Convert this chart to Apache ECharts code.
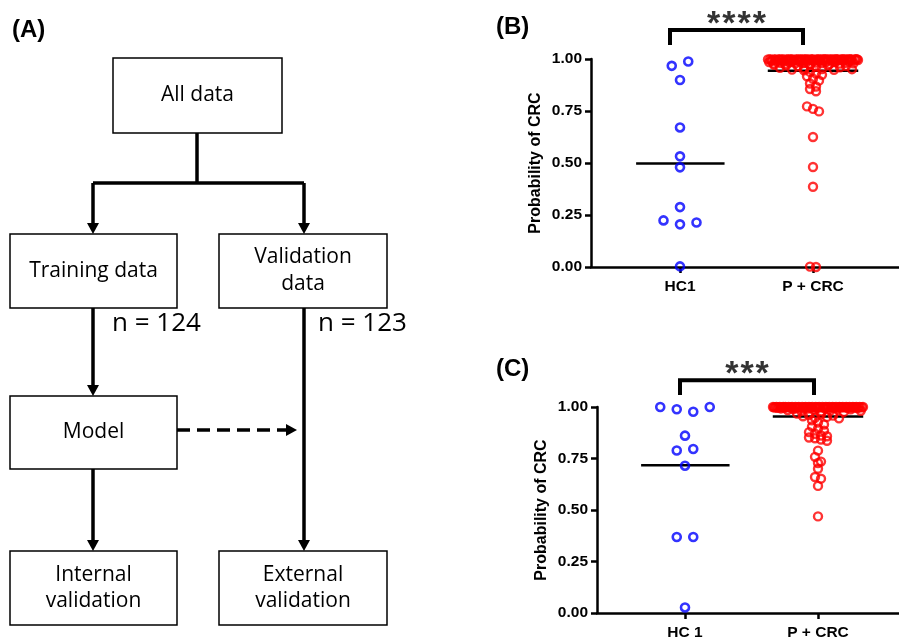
<!DOCTYPE html>
<html>
<head>
<meta charset="utf-8">
<script src="https://cdn.jsdelivr.net/npm/echarts@6/dist/echarts.min.js"></script>
<style>html,body{margin:0;padding:0;background:#fff}#c{width:899px;height:641px}</style>
</head>
<body>
<div id="c"></div>
<script>
// ---------------- DATA ----------------
const categoriesB = ['HC1', 'P + CRC'];
const categoriesC = ['HC 1', 'P + CRC'];
const yTicks = [0, 0.25, 0.5, 0.75, 1.0];

// Panel B (training) probabilities
const hcB = [0.967, 0.988, 0.899, 0.671, 0.532, 0.479, 0.288, 0.224, 0.205, 0.214, 0.003];
const crcB = [
  0.998, 0.985, 0.999, 0.991, 0.996, 0.978, 0.999, 0.994, 0.987, 0.997,
  0.999, 0.982, 0.995, 0.999, 0.989, 0.976, 0.998, 0.993, 0.999, 0.984,
  0.997, 0.999, 0.990, 0.996, 0.979, 0.999, 0.992, 0.998, 0.986, 0.999,
  0.995, 0.981, 0.999, 0.997, 0.988, 0.999, 0.994, 0.977, 0.998, 0.999,
  0.990, 0.996, 0.983, 0.999, 0.997, 0.992, 0.999, 0.980, 0.995, 0.999,
  0.998, 0.987, 0.999, 0.993, 0.976, 0.999, 0.996, 0.989, 0.999, 0.985,
  0.998, 0.999, 0.994, 0.978, 0.997, 0.999, 0.991, 0.999, 0.982, 0.996,
  0.999, 0.988, 0.998, 0.999, 0.993, 0.979, 0.997, 0.999, 0.999, 0.995,
  0.972, 0.958, 0.968, 0.949, 0.965, 0.955, 0.971, 0.946, 0.962, 0.952,
  0.969, 0.948, 0.960, 0.966, 0.951,
  0.938, 0.930, 0.924, 0.917, 0.905, 0.896, 0.882, 0.868, 0.856, 0.845,
  0.772, 0.760, 0.748, 0.625, 0.481, 0.386, 0.002, 0.000
];
const starsB = '****';

// Panel C (validation) probabilities
const hcC = [1.0, 0.989, 0.977, 1.0, 0.861, 0.789, 0.796, 0.715, 0.369, 0.369, 0.027];
const crcC = [
  1.0, 0.999, 0.998, 1.0, 0.996, 0.999, 1.0, 0.993, 0.999, 1.0,
  0.997, 1.0, 0.999, 0.985, 1.0, 0.998, 0.999, 1.0, 0.990, 0.999,
  1.0, 0.995, 0.999, 1.0, 0.998, 0.980, 1.0, 0.999, 0.997, 1.0,
  0.999, 0.992, 1.0, 0.999, 0.998, 1.0, 0.987, 0.999, 1.0, 0.996,
  0.999, 1.0, 0.998, 0.978, 1.0, 0.999, 0.994, 1.0, 0.999, 0.998,
  1.0, 0.983, 0.999, 1.0, 0.997, 0.999, 1.0, 0.991, 0.999, 1.0,
  0.998, 0.999, 1.0, 0.976, 0.999, 1.0, 0.996, 0.999, 1.0, 0.989,
  0.999, 1.0, 0.998, 0.999, 1.0, 0.995, 0.999, 1.0, 0.982, 0.999, 1.0,
  0.968, 0.955, 0.962, 0.948, 0.965, 0.952, 0.958, 0.945,
  0.935, 0.925, 0.915, 0.905, 0.895, 0.885, 0.878, 0.870, 0.862, 0.858,
  0.852, 0.848, 0.842, 0.836,
  0.788, 0.758, 0.735, 0.728, 0.700, 0.660, 0.652, 0.617, 0.469
];
const starsC = '***';

// Flowchart texts
const flowTexts = {
  all: 'All data', train: 'Training data', valid: 'Validation\ndata',
  nTrain: 'n = 124', nValid: 'n = 123', model: 'Model',
  internal: 'Internal\nvalidation', external: 'External\nvalidation'
};

// ---------------- LAYOUT / HELPERS ----------------
const BLUE = '#0000ff', RED = '#ff0000', INK = '#000';
const AXF = '"Liberation Sans", Arial, sans-serif';
const PX_PER_CAT = 133;

function mean(a) { return a.reduce((s, v) => s + v, 0) / a.length; }

// GraphPad-like row swarm: points within T of a row start share a row, spread horizontally
function swarm(values, center, T, Spx, Wpx) {
  const idx = values.map((v, i) => i).sort((a, b) => values[b] - values[a] || a - b);
  const rows = []; let cur = null;
  idx.forEach(i => {
    if (!cur || values[cur.start] - values[i] > T) { cur = { start: i, m: [] }; rows.push(cur); }
    cur.m.push(i);
  });
  const out = [];
  rows.forEach(r => {
    const m = r.m.slice().sort((a, b) => a - b);
    const k = m.length;
    const s = k > 1 ? Math.min(Spx, 2 * Wpx / (k - 1)) : 0;
    m.forEach((i, j) => out.push([center + (j - (k - 1) / 2) * s / PX_PER_CAT, values[i]]));
  });
  return out;
}

const panels = [
  { grid: { left: 591, top: 59, width: 308, height: 208 }, firstPx: 89, cats: categoriesB,
    hc: hcB, crc: crcB, stars: starsB, bracketTop: 1.139, bracketLeg: 1.067, bracketShift: [-10, -10],
    starY: 1.163, nameGap: 47 },
  { grid: { left: 597, top: 407, width: 302, height: 207 }, firstPx: 88, cats: categoriesC,
    hc: hcC, crc: crcC, stars: starsC, bracketTop: 1.130, bracketLeg: 1.058, bracketShift: [-5, -4],
    starY: 1.159, nameGap: 47 }
];

const grids = [], xAxes = [], yAxes = [], series = [];
panels.forEach((p, gi) => {
  grids.push(p.grid);
  const xmin = 1 - p.firstPx / PX_PER_CAT;
  const xmax = xmin + p.grid.width / PX_PER_CAT;
  xAxes.push({
    gridIndex: gi, type: 'value', min: xmin, max: xmax,
    splitLine: { show: false },
    axisLine: { show: true, onZero: false, lineStyle: { color: INK, width: 2.5 } },
    axisTick: { show: true, customValues: [1, 2], length: 6, lineStyle: { color: INK, width: 2.5 } },
    axisLabel: { show: true, customValues: [1, 2], margin: 12, color: INK, fontSize: 15.5, fontWeight: 'bold', fontFamily: AXF,
      formatter: v => (Math.round(v) === 1 ? p.cats[0] : p.cats[1]) }
  });
  yAxes.push({
    gridIndex: gi, type: 'value', min: 0, max: 1, interval: 0.25,
    splitLine: { show: false },
    axisLine: { show: true, onZero: false, lineStyle: { color: INK, width: 2.5 } },
    axisTick: { show: true, length: 6, lineStyle: { color: INK, width: 2.5 } },
    axisLabel: { margin: 9, color: INK, fontSize: 15.5, fontWeight: 'bold', fontFamily: AXF,
      formatter: v => v.toFixed(2) },
    name: 'Probability of CRC', nameLocation: 'middle', nameRotate: 90, nameGap: p.nameGap,
    nameTextStyle: { color: INK, fontSize: 16, fontWeight: 'bold', fontFamily: AXF }
  });
  const mHC = mean(p.hc), mCRC = mean(p.crc);
  series.push({ type: 'line', xAxisIndex: gi, yAxisIndex: gi, symbol: 'none', z: 1, silent: true,
    lineStyle: { color: INK, width: 2.5 }, data: [[1 - 0.33, mHC], [1 + 0.335, mHC]] });
  series.push({ type: 'line', xAxisIndex: gi, yAxisIndex: gi, symbol: 'none', z: 1, silent: true,
    lineStyle: { color: INK, width: 2.5 }, data: [[2 - 0.34, mCRC], [2 + 0.34, mCRC]] });
  series.push({ type: 'scatter', xAxisIndex: gi, yAxisIndex: gi, symbol: 'circle', symbolSize: 8, z: 3, clip: false,
    itemStyle: { color: 'rgba(0,0,0,0)', borderColor: BLUE, borderWidth: 2.6 },
    data: swarm(p.hc, 1, 0.025, 16.5, 45) });
  series.push({ type: 'scatter', xAxisIndex: gi, yAxisIndex: gi, symbol: 'circle', symbolSize: 8, z: 3, clip: false,
    itemStyle: { color: 'rgba(0,0,0,0)', borderColor: RED, borderWidth: 2.4 },
    data: swarm(p.crc, 2, 0.025, 6, 45) });
  // significance bracket
  const bx1 = 1 + p.bracketShift[0] / PX_PER_CAT, bx2 = 2 + p.bracketShift[1] / PX_PER_CAT;
  series.push({ type: 'line', xAxisIndex: gi, yAxisIndex: gi, symbol: 'none', clip: false, z: 2, silent: true,
    lineStyle: { color: INK, width: 4, join: 'miter' },
    data: [[bx1, p.bracketLeg], [bx1, p.bracketTop], [bx2, p.bracketTop], [bx2, p.bracketLeg]] });
  series.push({ type: 'scatter', xAxisIndex: gi, yAxisIndex: gi, symbolSize: 0, clip: false, silent: true,
    itemStyle: { color: INK },
    label: { show: true, position: 'inside', color: INK, textBorderWidth: 0,
      formatter: p.stars.split('').map(c => '{s|' + c + '}').join(''),
      rich: { s: { color: INK, fontSize: 34, fontWeight: 'bold', fontFamily: AXF, padding: [0, 1, 0, 1], textBorderWidth: 0 } } },
    data: [[(bx1 + bx2) / 2, p.starY]] });
});

// ---------------- FLOWCHART (graphic) ----------------
const FF = '"Open Sans", "Noto Sans", sans-serif';
const g = [];
function box(x, y, w, h, text, lh) {
  g.push({ type: 'rect', shape: { x, y, width: w, height: h }, style: { fill: '#fff', stroke: INK, lineWidth: 1.5 } });
  g.push({ type: 'text', x: x + w / 2, y: y + h / 2, style: { text, fill: INK, fontSize: 21, fontFamily: FF,
    align: 'center', verticalAlign: 'middle', lineHeight: lh || 27 } });
}
function line(pts, dash) {
  g.push({ type: 'polyline', shape: { points: pts }, style: { stroke: INK, lineWidth: 3.5, fill: null, lineDash: dash || null } });
}
function arrowDown(x, tipY) {
  g.push({ type: 'polygon', shape: { points: [[x - 6, tipY - 11], [x + 6, tipY - 11], [x, tipY]] }, style: { fill: INK } });
}
function arrowRight(tipX, y) {
  g.push({ type: 'polygon', shape: { points: [[tipX - 11, y - 6], [tipX - 11, y + 6], [tipX, y]] }, style: { fill: INK } });
}
function label(x, y, text, size, weight, ff) {
  g.push({ type: 'text', x, y, style: { text, fill: INK, fontSize: size, fontWeight: weight || 'normal', fontFamily: ff || FF,
    align: 'left', verticalAlign: 'middle' } });
}
line([[197, 133], [197, 183]]);
line([[93, 183], [304, 183]]);
line([[93, 183], [93, 225]]); arrowDown(93, 234);
line([[304, 183], [304, 225]]); arrowDown(304, 234);
line([[93, 308], [93, 387]]); arrowDown(93, 396);
line([[304, 308], [304, 542]]); arrowDown(304, 551);
line([[93, 469], [93, 542]]); arrowDown(93, 551);
line([[177, 430], [288, 430]], [13, 7]); arrowRight(297, 430);
box(113, 58, 169, 75, flowTexts.all);
box(10, 234, 167, 74, flowTexts.train);
box(219, 234, 168, 74, flowTexts.valid);
box(10, 396, 167, 73, flowTexts.model);
box(10, 551, 167, 74, flowTexts.internal, 26);
box(219, 551, 168, 74, flowTexts.external, 26);
label(112, 324, flowTexts.nTrain, 26);
label(318, 324, flowTexts.nValid, 26);
label(12, 30, '(A)', 24, 'bold', AXF);
label(496, 27, '(B)', 24, 'bold', AXF);
label(496, 369, '(C)', 24, 'bold', AXF);

const chart = echarts.init(document.getElementById('c'), null, { renderer: 'canvas' });
chart.setOption({
  animation: false,
  backgroundColor: '#fff',
  grid: grids, xAxis: xAxes, yAxis: yAxes, series,
  graphic: g
});
</script>
</body>
</html>
